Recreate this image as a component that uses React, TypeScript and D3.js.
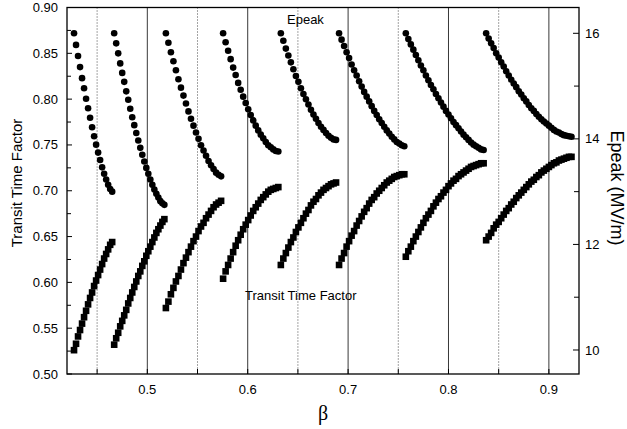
import React from 'react'
import * as d3 from 'd3'

// beta grid of each cavity family, with its transit time factor and peak field
const beta1 = [0.427, 0.429, 0.431, 0.433, 0.435, 0.437, 0.439, 0.441, 0.443, 0.445, 0.447, 0.449, 0.451, 0.453, 0.455, 0.457, 0.459, 0.461, 0.463, 0.465]
const ttf1 = [0.526, 0.533, 0.541, 0.548, 0.555, 0.562, 0.569, 0.576, 0.583, 0.589, 0.596, 0.602, 0.608, 0.614, 0.620, 0.626, 0.631, 0.636, 0.641, 0.644]
const epeak1 = [16.0, 15.78, 15.57, 15.36, 15.15, 14.96, 14.76, 14.58, 14.4, 14.22, 14.05, 13.89, 13.74, 13.6, 13.46, 13.34, 13.23, 13.13, 13.05, 13.0]

const beta2 = [0.467, 0.469, 0.471, 0.473, 0.475, 0.477, 0.479, 0.481, 0.483, 0.485, 0.487, 0.489, 0.491, 0.493, 0.495, 0.497, 0.499, 0.501, 0.503, 0.505, 0.507, 0.509, 0.511, 0.513, 0.515, 0.517]
const ttf2 = [0.532, 0.539, 0.545, 0.552, 0.558, 0.564, 0.570, 0.577, 0.583, 0.589, 0.595, 0.601, 0.607, 0.612, 0.618, 0.623, 0.629, 0.634, 0.639, 0.644, 0.649, 0.654, 0.658, 0.662, 0.666, 0.669]
const epeak2 = [16.0, 15.81, 15.62, 15.43, 15.25, 15.08, 14.9, 14.74, 14.57, 14.41, 14.26, 14.11, 13.97, 13.83, 13.7, 13.57, 13.45, 13.34, 13.23, 13.13, 13.04, 12.96, 12.89, 12.82, 12.78, 12.75]

const beta3 = [0.5185, 0.521, 0.5235, 0.526, 0.5285, 0.531, 0.5335, 0.536, 0.5385, 0.541, 0.5435, 0.546, 0.5485, 0.551, 0.5535, 0.556, 0.5585, 0.561, 0.5635, 0.566, 0.5685, 0.571, 0.5735]
const ttf3 = [0.572, 0.579, 0.587, 0.594, 0.601, 0.607, 0.614, 0.621, 0.627, 0.633, 0.639, 0.645, 0.650, 0.656, 0.661, 0.665, 0.670, 0.674, 0.678, 0.682, 0.685, 0.687, 0.689]
const epeak3 = [16.0, 15.82, 15.64, 15.47, 15.3, 15.13, 14.97, 14.82, 14.67, 14.52, 14.38, 14.25, 14.12, 14.0, 13.88, 13.78, 13.68, 13.58, 13.5, 13.43, 13.36, 13.32, 13.29]

const beta4 = [0.5755, 0.578, 0.5805, 0.583, 0.5855, 0.588, 0.5905, 0.593, 0.5955, 0.598, 0.6005, 0.603, 0.6055, 0.608, 0.6105, 0.613, 0.6155, 0.618, 0.6205, 0.623, 0.6255, 0.628, 0.6305]
const ttf4 = [0.604, 0.612, 0.619, 0.626, 0.633, 0.640, 0.646, 0.652, 0.658, 0.663, 0.668, 0.673, 0.678, 0.682, 0.686, 0.690, 0.693, 0.696, 0.699, 0.701, 0.702, 0.703, 0.704]
const epeak4 = [16.0, 15.83, 15.67, 15.51, 15.35, 15.21, 15.06, 14.93, 14.8, 14.68, 14.56, 14.45, 14.35, 14.25, 14.16, 14.08, 14.01, 13.94, 13.88, 13.84, 13.8, 13.77, 13.76]

const beta5 = [0.633, 0.6355, 0.638, 0.6405, 0.643, 0.6455, 0.648, 0.6505, 0.653, 0.6555, 0.658, 0.6605, 0.663, 0.6655, 0.668, 0.6705, 0.673, 0.6755, 0.678, 0.6805, 0.683, 0.6855, 0.688]
const ttf5 = [0.619, 0.626, 0.632, 0.638, 0.644, 0.649, 0.655, 0.660, 0.665, 0.670, 0.675, 0.679, 0.684, 0.688, 0.691, 0.695, 0.698, 0.701, 0.703, 0.705, 0.707, 0.708, 0.709]
const epeak5 = [16.0, 15.86, 15.71, 15.58, 15.45, 15.32, 15.19, 15.08, 14.96, 14.85, 14.75, 14.65, 14.55, 14.46, 14.38, 14.3, 14.23, 14.17, 14.11, 14.06, 14.02, 13.99, 13.98]

const beta6 = [0.691, 0.6935, 0.696, 0.6985, 0.701, 0.7035, 0.706, 0.7085, 0.711, 0.7135, 0.716, 0.7185, 0.721, 0.7235, 0.726, 0.7285, 0.731, 0.7335, 0.736, 0.7385, 0.741, 0.7435, 0.746, 0.7485, 0.751, 0.7535, 0.756]
const ttf6 = [0.619, 0.626, 0.632, 0.639, 0.645, 0.651, 0.656, 0.662, 0.667, 0.672, 0.677, 0.681, 0.686, 0.690, 0.693, 0.697, 0.700, 0.703, 0.706, 0.709, 0.711, 0.713, 0.715, 0.716, 0.717, 0.718, 0.718]
const epeak6 = [16.0, 15.88, 15.76, 15.64, 15.53, 15.41, 15.3, 15.2, 15.09, 14.99, 14.89, 14.8, 14.71, 14.62, 14.53, 14.45, 14.37, 14.3, 14.23, 14.16, 14.1, 14.04, 13.99, 13.94, 13.91, 13.88, 13.86]

const beta7 = [0.7575, 0.76, 0.7625, 0.765, 0.7675, 0.77, 0.7725, 0.775, 0.7775, 0.78, 0.7825, 0.785, 0.7875, 0.79, 0.7925, 0.795, 0.7975, 0.8, 0.8025, 0.805, 0.8075, 0.81, 0.8125, 0.815, 0.8175, 0.82, 0.8225, 0.825, 0.8275, 0.83, 0.8325, 0.835]
const ttf7 = [0.628, 0.634, 0.639, 0.645, 0.650, 0.655, 0.660, 0.665, 0.670, 0.674, 0.678, 0.683, 0.687, 0.691, 0.694, 0.698, 0.701, 0.705, 0.708, 0.711, 0.713, 0.716, 0.718, 0.720, 0.722, 0.724, 0.726, 0.727, 0.728, 0.729, 0.730, 0.730]
const epeak7 = [16.0, 15.89, 15.79, 15.69, 15.59, 15.49, 15.39, 15.3, 15.2, 15.11, 15.02, 14.94, 14.85, 14.77, 14.69, 14.61, 14.53, 14.46, 14.39, 14.32, 14.26, 14.2, 14.14, 14.08, 14.03, 13.98, 13.93, 13.89, 13.86, 13.83, 13.8, 13.79]

const beta8 = [0.8375, 0.84, 0.8425, 0.845, 0.8475, 0.85, 0.8525, 0.855, 0.8575, 0.86, 0.8625, 0.865, 0.8675, 0.87, 0.8725, 0.875, 0.8775, 0.88, 0.8825, 0.885, 0.8875, 0.89, 0.8925, 0.895, 0.8975, 0.9, 0.9025, 0.905, 0.9075, 0.91, 0.9125, 0.915, 0.9175, 0.92, 0.9225]
const ttf8 = [0.646, 0.650, 0.654, 0.659, 0.663, 0.666, 0.670, 0.674, 0.678, 0.681, 0.685, 0.688, 0.692, 0.695, 0.698, 0.701, 0.704, 0.707, 0.710, 0.712, 0.715, 0.717, 0.720, 0.722, 0.724, 0.726, 0.728, 0.730, 0.731, 0.733, 0.734, 0.735, 0.736, 0.737, 0.737]
const epeak8 = [16.0, 15.9, 15.81, 15.72, 15.62, 15.54, 15.45, 15.37, 15.28, 15.2, 15.12, 15.05, 14.98, 14.9, 14.84, 14.77, 14.71, 14.64, 14.58, 14.53, 14.47, 14.42, 14.37, 14.33, 14.29, 14.25, 14.21, 14.17, 14.14, 14.12, 14.09, 14.07, 14.06, 14.05, 14.04]

const betaTicks = [0.5, 0.6, 0.7, 0.8, 0.9]
const betaHalfTicks = [0.45, 0.55, 0.65, 0.75, 0.85]
const ttfTicks = [0.5, 0.55, 0.6, 0.65, 0.7, 0.75, 0.8, 0.85, 0.9]
const ttfMinor = [0.525, 0.575, 0.625, 0.675, 0.725, 0.775, 0.825, 0.875]
const epeakTicks = [10, 12, 14, 16]
const epeakMinor = [11, 13, 15]

const segments = [
  [beta1, ttf1, epeak1], [beta2, ttf2, epeak2], [beta3, ttf3, epeak3], [beta4, ttf4, epeak4],
  [beta5, ttf5, epeak5], [beta6, ttf6, epeak6], [beta7, ttf7, epeak7], [beta8, ttf8, epeak8],
]

const W = 627
const H = 429
const left = 67
const right = 579
const top = 7.5
const bottom = 374
const font = 'Arial, "Liberation Sans", Helvetica, sans-serif'

export default function App() {
  const x = d3.scaleLinear().domain([0.42, 0.93]).range([left, right])
  const yL = d3.scaleLinear().domain([0.5, 0.9]).range([bottom, top])
  const yR = d3.scaleLinear().domain([9.545, 16.489]).range([bottom, top])
  const sq = 6.6

  return (
    <svg width={W} height={H} style={{ position: 'absolute', left: 0, top: 0, background: '#fff' }}>
      {betaTicks.map((b) => (
        <line key={'g' + b} x1={x(b)} x2={x(b)} y1={top} y2={bottom} stroke="#222" strokeWidth={0.9} />
      ))}
      {betaHalfTicks.map((b) => (
        <line key={'h' + b} x1={x(b)} x2={x(b)} y1={top} y2={bottom} stroke="#333" strokeWidth={0.9} strokeDasharray="1 2" />
      ))}

      {segments.map(([beta, ttf, ep], si) => (
        <g key={'s' + si}>
          {beta.map((b, i) => (
            <rect key={'t' + i} x={x(b) - sq / 2} y={yL(ttf[i]) - sq / 2} width={sq} height={sq} fill="#000" />
          ))}
          {beta.map((b, i) => (
            <circle key={'e' + i} cx={x(b)} cy={yR(ep[i])} r={3.3} fill="#000" />
          ))}
        </g>
      ))}

      <rect x={left} y={top} width={right - left} height={bottom - top} fill="none" stroke="#000" strokeWidth={1.3} />

      {/* left axis */}
      {ttfTicks.map((t) => (
        <g key={'l' + t}>
          <line x1={left} x2={left + 5} y1={yL(t)} y2={yL(t)} stroke="#000" strokeWidth={1} />
          <text x={58} y={yL(t)} dy="0.35em" textAnchor="end" fontSize={13} fontFamily={font}>{t.toFixed(2)}</text>
        </g>
      ))}
      {ttfMinor.map((t) => (
        <line key={'lm' + t} x1={left} x2={left + 4} y1={yL(t)} y2={yL(t)} stroke="#000" strokeWidth={1} />
      ))}

      {/* right axis */}
      {epeakTicks.map((t) => (
        <g key={'r' + t}>
          <line x1={right - 6} x2={right} y1={yR(t)} y2={yR(t)} stroke="#000" strokeWidth={1} />
          <text x={585} y={yR(t)} dy="0.35em" fontSize={13} fontFamily={font}>{t}</text>
        </g>
      ))}
      {epeakMinor.map((t) => (
        <line key={'rm' + t} x1={right - 5} x2={right} y1={yR(t)} y2={yR(t)} stroke="#000" strokeWidth={1} />
      ))}

      {/* bottom axis */}
      {[...betaTicks, ...betaHalfTicks].map((b) => (
        <line key={'bt' + b} x1={x(b)} x2={x(b)} y1={bottom} y2={bottom - 5} stroke="#000" strokeWidth={1} />
      ))}
      {betaTicks.map((b) => (
        <text key={'bl' + b} x={x(b)} y={389} dy="0.35em" textAnchor="middle" fontSize={13} fontFamily={font}>{b.toFixed(1)}</text>
      ))}

      <text x={323} y={413} dy="0.35em" textAnchor="middle" fontSize={20} fontFamily='"Liberation Serif", "Times New Roman", serif'>β</text>
      <text transform="translate(22,183) rotate(-90)" textAnchor="middle" fontSize={15} fontFamily={font}>Transit Time Factor</text>
      <text transform="translate(611,188) rotate(90)" textAnchor="middle" fontSize={18} fontFamily={font}>Epeak (MV/m)</text>

      <text x={287} y={24} fontSize={13} fontFamily={font}>Epeak</text>
      <text x={245} y={300} fontSize={13} fontFamily={font}>Transit Time Factor</text>
    </svg>
  )
}
